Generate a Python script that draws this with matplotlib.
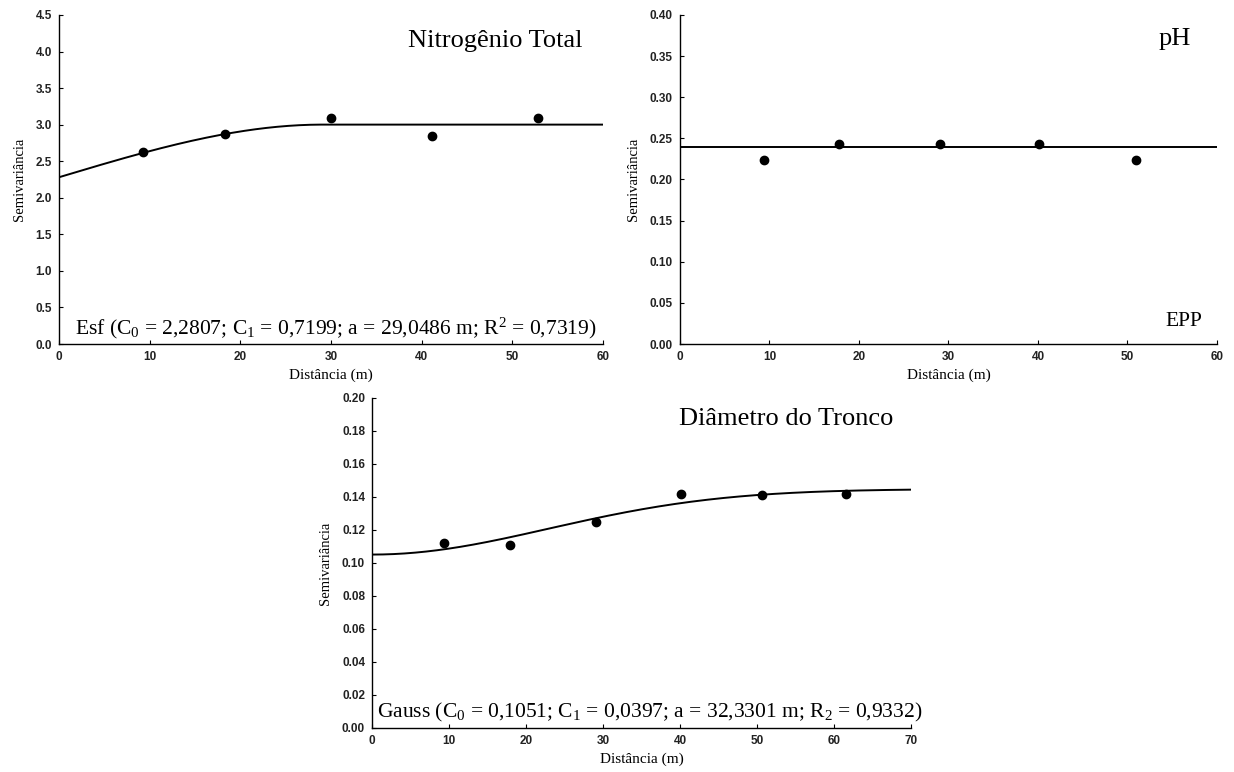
import numpy as np
import matplotlib
matplotlib.use("Agg")
import matplotlib.pyplot as plt

plt.rcParams["font.family"] = "Liberation Sans"
plt.rcParams["mathtext.fontset"] = "custom"
plt.rcParams["mathtext.rm"] = "Liberation Serif"
plt.rcParams["mathtext.it"] = "Liberation Serif:italic"

# Nitrogênio total - experimental semivariogram and spherical model
n_dist = [9.3, 18.3, 30.0, 41.2, 52.8]
n_gamma = [2.63, 2.87, 3.09, 2.85, 3.09]
n_c0, n_c1, n_a = 2.2807, 0.7199, 29.0486

# pH - pure nugget effect
ph_dist = [9.4, 17.8, 29.1, 40.1, 50.9]
ph_gamma = [0.224, 0.243, 0.243, 0.243, 0.224]
ph_sill = 0.240

# Diâmetro do tronco - gaussian model
d_dist = [9.4, 17.9, 29.1, 40.1, 50.7, 61.6]
d_gamma = [0.112, 0.111, 0.125, 0.142, 0.141, 0.142]
d_c0, d_c1, d_a = 0.1051, 0.0397, 32.3301


def spherical(h, c0, c1, a):
    r = np.minimum(h / a, 1.0)
    return c0 + c1 * (1.5 * r - 0.5 * r ** 3)


def gaussian(h, c0, c1, a):
    return c0 + c1 * (1 - np.exp(-(h / a) ** 2))


def style_axes(ax, xmax, ymax, ystep, yfmt):
    ax.set_xlim(0, xmax)
    ax.set_ylim(0, ymax)
    ax.set_xticks(np.arange(0, xmax + 1, 10))
    yt = np.arange(0, ymax + ystep / 2, ystep)
    ax.set_yticks(yt)
    ax.set_yticklabels([yfmt % v for v in yt])
    for s in ["top", "right"]:
        ax.spines[s].set_visible(False)
    for s in ["left", "bottom"]:
        ax.spines[s].set_linewidth(1.0)
    ax.tick_params(direction="in", length=3, width=0.8, labelsize=8.5,
                   labelcolor="#222222", pad=5)
    for lab in ax.get_xticklabels() + ax.get_yticklabels():
        lab.set_fontweight("bold")
    ax.set_xlabel("Distância (m)", family="Liberation Serif", fontsize=11, labelpad=4)
    ax.set_ylabel("Semivariância", family="Liberation Serif", fontsize=10.5, labelpad=7)


fig = plt.figure(figsize=(12.34, 7.72), dpi=100)

ax1 = fig.add_axes([0.0478, 0.5544, 0.4408, 0.4262])
h = np.linspace(0, 60, 300)
ax1.plot(h, spherical(h, n_c0, n_c1, n_a), color="black", lw=1.4)
ax1.plot(n_dist, n_gamma, "o", color="black", ms=6)
style_axes(ax1, 60, 4.5, 0.5, "%.1f")
ax1.text(0.962, 0.922, "Nitrogênio Total", transform=ax1.transAxes, ha="right", va="center",
         family="Liberation Serif", fontsize=19)
ax1.text(0.03, 0.046, r"Esf (C$_0$ = 2,2807; C$_1$ = 0,7199; a = 29,0486 m; R$^2$ = 0,7319)",
         transform=ax1.transAxes, ha="left", va="center", family="Liberation Serif", fontsize=15.5)

ax2 = fig.add_axes([0.551, 0.5544, 0.4352, 0.4262])
ax2.plot([0, 60], [ph_sill, ph_sill], color="black", lw=1.4)
ax2.plot(ph_dist, ph_gamma, "o", color="black", ms=6)
style_axes(ax2, 60, 0.40, 0.05, "%.2f")
ax2.text(0.952, 0.926, "pH", transform=ax2.transAxes, ha="right", va="center",
         family="Liberation Serif", fontsize=19)
ax2.text(0.972, 0.067, "EPP", transform=ax2.transAxes, ha="right", va="center",
         family="Liberation Serif", fontsize=15.5)

ax3 = fig.add_axes([0.3015, 0.057, 0.4368, 0.4275])
h = np.linspace(0, 70, 300)
ax3.plot(h, gaussian(h, d_c0, d_c1, d_a), color="black", lw=1.4)
ax3.plot(d_dist, d_gamma, "o", color="black", ms=6)
style_axes(ax3, 70, 0.20, 0.02, "%.2f")
ax3.text(0.967, 0.936, "Diâmetro do Tronco", transform=ax3.transAxes, ha="right", va="center",
         family="Liberation Serif", fontsize=19)
ax3.text(0.009, 0.048, r"Gauss (C$_0$ = 0,1051; C$_1$ = 0,0397; a = 32,3301 m; R$_2$ = 0,9332)",
         transform=ax3.transAxes, ha="left", va="center", family="Liberation Serif", fontsize=15.5,
         clip_on=False)

fig.savefig("out.png", dpi=100)
